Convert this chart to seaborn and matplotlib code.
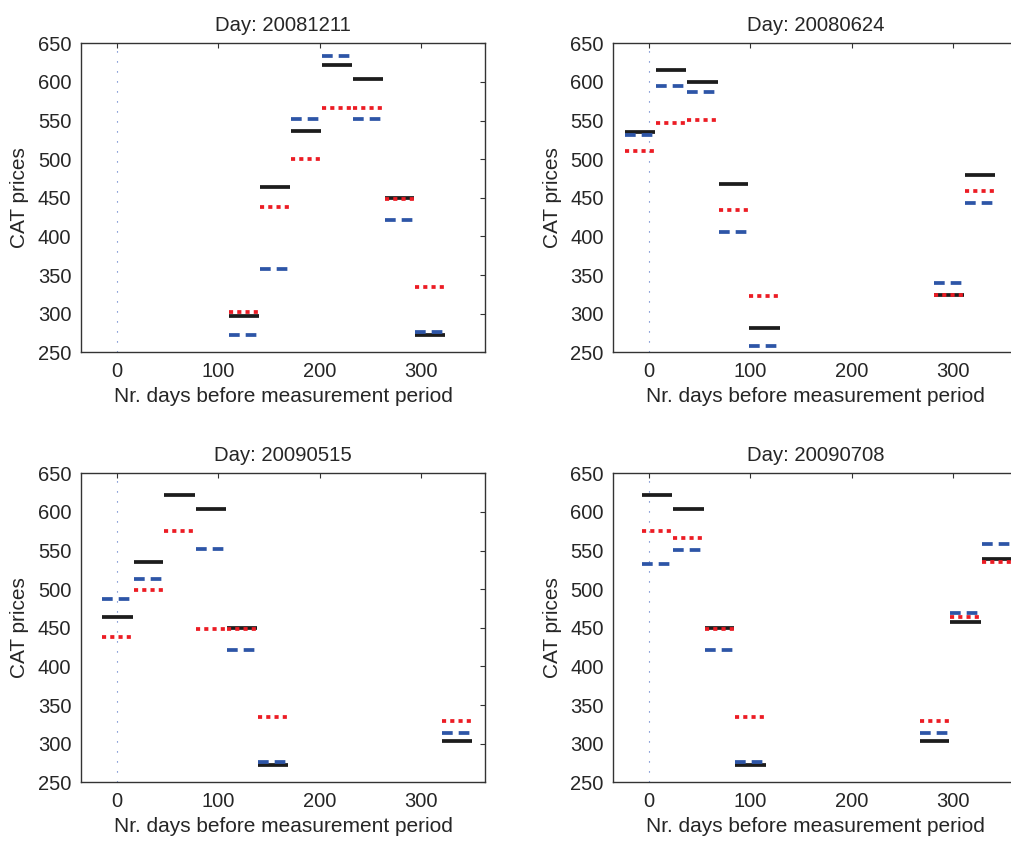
import numpy as np
import pandas as pd
import matplotlib
matplotlib.use("Agg")
import matplotlib.pyplot as plt
import seaborn as sns

# Each contract month is a segment from its first to its last day,
# counted in days from the quote day to the start of that month.
titles = ["Day: 20081211", "Day: 20080624", "Day: 20090515", "Day: 20090708"]

start_20081211 = [111, 141, 172, 202, 233, 264, 294]
end_20081211 = [140, 171, 201, 232, 263, 293, 324]
index_20081211 = [297.5, 463.6, 537.0, 622.0, 603.8, 449.4, 272.9]
model_20081211 = [302.2, 437.7, 500.7, 566.7, 566.7, 448.5, 334.6]
market_20081211 = [272.9, 358.3, 551.6, 633.6, 551.6, 420.9, 275.9]

start_20080624 = [-23, 7, 38, 69, 99, 281, 311]
end_20080624 = [6, 37, 68, 98, 129, 310, 341]
index_20080624 = [534.8, 615.9, 599.5, 467.5, 281.1, 323.8, 480.0]
model_20080624 = [510.6, 547.3, 550.8, 434.7, 323.4, 323.8, 458.8]
market_20080624 = [531.8, 594.8, 587.0, 405.3, 258.2, 339.3, 443.7]

start_20090515 = [-14, 17, 47, 78, 109, 139, 321]
end_20090515 = [16, 46, 77, 108, 138, 169, 350]
index_20090515 = [463.6, 535.7, 622.0, 603.8, 449.4, 272.9, 303.9]
model_20090515 = [437.7, 499.0, 575.8, 448.5, 448.5, 334.6, 329.4]
market_20090515 = [486.9, 513.6, np.nan, 551.6, 420.9, 275.9, 313.9]

start_20090708 = [-7, 24, 55, 85, 267, 297, 328]
end_20090708 = [23, 54, 84, 115, 296, 327, 357]
index_20090708 = [622.0, 603.8, 449.4, 272.9, 303.9, 458.0, 538.7]
model_20090708 = [575.4, 566.3, 448.5, 334.6, 329.4, 464.0, 535.7]
market_20090708 = [532.2, 551.2, 420.9, 275.9, 313.9, 469.2, 558.5]

panels = [
    (start_20081211, end_20081211, index_20081211, model_20081211, market_20081211),
    (start_20080624, end_20080624, index_20080624, model_20080624, market_20080624),
    (start_20090515, end_20090515, index_20090515, model_20090515, market_20090515),
    (start_20090708, end_20090708, index_20090708, model_20090708, market_20090708),
]

series_order = ["index", "model", "market"]
palette = {"index": "#1c1c1c", "model": "#ec1c24", "market": "#2d55a7"}
dashes = {"index": "", "model": (1.1, 1.1), "market": (2.85, 1.6)}


def segments_frame(starts, ends, index, model, market):
    rows = []
    for name, values in zip(series_order, (index, model, market)):
        for k, (s, e, v) in enumerate(zip(starts, ends, values)):
            if np.isnan(v):
                continue
            rows.append({"day": s, "price": v, "series": name, "seg": k})
            rows.append({"day": e, "price": v, "series": name, "seg": k})
    return pd.DataFrame(rows)


sns.set_style("white")
text_color = "#262626"
plt.rcParams["font.family"] = ["Liberation Sans", "DejaVu Sans"]
plt.rcParams["lines.solid_capstyle"] = "butt"
plt.rcParams["lines.dash_capstyle"] = "butt"
plt.rcParams["text.color"] = text_color
plt.rcParams["axes.labelcolor"] = text_color

fig = plt.figure(figsize=(10.11, 8.42), dpi=100)

W, H = 1011.0, 842.0
ax_w, ax_h = 404.0, 309.0
lefts = [81.0, 613.3]
bottoms = [352.3, 782.3]

for i, panel in enumerate(panels):
    row, col = divmod(i, 2)
    ax = fig.add_axes([lefts[col] / W, 1 - bottoms[row] / H, ax_w / W, ax_h / H])
    df = segments_frame(*panel)

    ax.axvline(0, color="#4a6cc4", lw=0.8, linestyle=(0, (1, 8)), zorder=1)

    sns.lineplot(
        data=df, x="day", y="price", hue="series", style="series",
        units="seg", estimator=None, hue_order=series_order,
        style_order=series_order, palette=palette, dashes=dashes,
        lw=2.7, legend=False, ax=ax, zorder=3,
    )

    ax.set_xlim(-35, 363)
    ax.set_ylim(250, 650)
    ax.set_xticks([0, 100, 200, 300])
    ax.set_yticks(np.arange(250, 651, 50))
    ax.set_title(titles[i], fontsize=14.6, pad=9, color=text_color)
    ax.set_xlabel("Nr. days before measurement period", fontsize=15, labelpad=4)
    ax.set_ylabel("CAT prices", fontsize=15, labelpad=6)
    ax.tick_params(direction="in", top=True, right=True, length=3.5,
                   width=0.8, color="#333333", labelsize=14.5,
                   labelcolor=text_color, pad=7)
    for sp in ax.spines.values():
        sp.set_visible(True)
        sp.set_color("#333333")
        sp.set_linewidth(1.0)

fig.savefig("out.png", dpi=100)
